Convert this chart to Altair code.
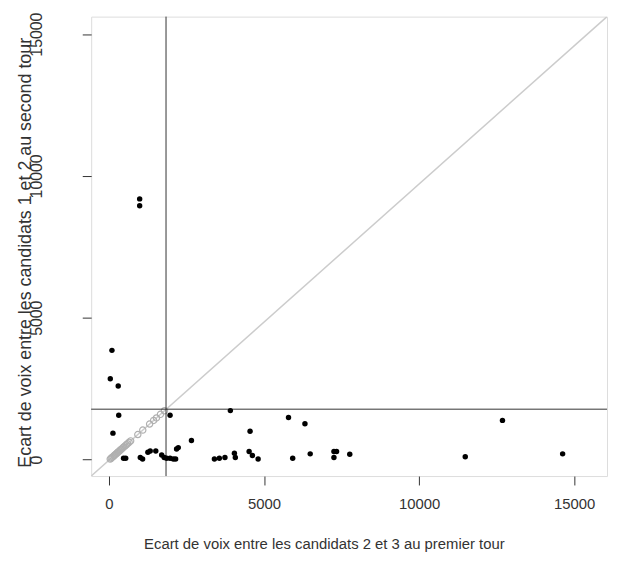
import altair as alt
import pandas as pd

# Black points: (x = gap candidates 2-3 first round, y = gap candidates 1-2 second round)
black_x = [990, 990, 96, 43, 298, 315, 128, 1970, 3915, 5790, 6320, 4550, 2660, 12690,
           470, 540, 1010, 1085, 1255, 1330, 1510, 1700, 1780, 1860, 1970, 2075, 2150,
           2180, 2235, 3400, 3560, 3740, 4045, 4075, 4520, 4625, 4810, 5925, 6490,
           7255, 7340, 7255, 7765, 11490, 14630]
black_y = [9190, 8950, 3850, 2850, 2590, 1560, 930, 1560, 1725, 1480, 1260, 1000, 670, 1380,
           45, 45, 70, 20, 255, 300, 300, 160, 70, 45, 45, 20, 20,
           370, 420, 20, 45, 70, 220, 70, 280, 140, 20, 45, 200,
           280, 280, 70, 185, 100, 200]

# Grey open circles along the diagonal
grey_x = [40, 70, 100, 130, 160, 190, 220, 250, 280, 310, 340, 370, 400, 440, 480, 520,
          560, 600, 650, 700, 930, 1090, 1310, 1440, 1530, 1660, 1790]
grey_y = [15, 44, 73, 102, 131, 161, 190, 219, 248, 277, 307, 336, 365, 404, 443, 482,
          521, 560, 609, 658, 882, 1038, 1252, 1379, 1467, 1593, 1720]

# Reference lines
vline_x = [1840]
hline_y = [1775]
diag_x = [-574, 16062]
diag_y = [-583, 15617]

x_domain = [-574, 16062]
y_domain = [-583, 15617]
ticks = [0, 5000, 10000, 15000]

FONT = "Liberation Sans"
TXT = "#333333"

black_df = pd.DataFrame({"x": black_x, "y": black_y})
grey_df = pd.DataFrame({"x": grey_x, "y": grey_y})
diag_df = pd.DataFrame({"x": diag_x, "y": diag_y})
v_df = pd.DataFrame({"x": vline_x})
h_df = pd.DataFrame({"y": hline_y})

xscale = alt.Scale(domain=x_domain, nice=False, zero=False)
yscale = alt.Scale(domain=y_domain, nice=False, zero=False)

xaxis = alt.Axis(
    title="Ecart de voix entre les candidats 2 et 3 au premier tour",
    values=ticks, format="d", grid=False, domain=False,
    tickSize=9, tickColor=TXT, labelPadding=12, labelFontSize=15, labelColor=TXT,
    labelFont=FONT, labelBaseline="top",
    titleFont=FONT, titleFontSize=15, titleFontWeight="normal", titleColor=TXT,
    titleX=235, titleY=73, titleAlign="center", titleBaseline="alphabetic",
)
yaxis = alt.Axis(
    title="Ecart de voix entre les candidats 1 et 2 au second tour",
    values=ticks, format="d", grid=False, domain=False,
    tickSize=9, tickColor=TXT, labelPadding=38, labelFontSize=16, labelColor=TXT,
    labelFont=FONT, labelAngle=270,
    titleFont=FONT, titleFontSize=18, titleFontWeight="normal", titleColor=TXT,
    titleAngle=270, titleX=-66, titleY=238, titleAlign="center", titleBaseline="middle",
)

diag = alt.Chart(diag_df).mark_line(color="#cccccc", strokeWidth=1.5, clip=True).encode(
    x=alt.X("x:Q", scale=xscale, axis=xaxis),
    y=alt.Y("y:Q", scale=yscale, axis=yaxis),
)
grey = alt.Chart(grey_df).mark_point(filled=False, color="#b0b0b0", size=40, strokeWidth=1.2, opacity=1).encode(
    x=alt.X("x:Q", scale=xscale),
    y=alt.Y("y:Q", scale=yscale),
)
vrule = alt.Chart(v_df).mark_rule(color="#333333", strokeWidth=1).encode(x=alt.X("x:Q", scale=xscale))
hrule = alt.Chart(h_df).mark_rule(color="#333333", strokeWidth=1).encode(y=alt.Y("y:Q", scale=yscale))
black = alt.Chart(black_df).mark_circle(color="#000000", size=30, opacity=1).encode(
    x=alt.X("x:Q", scale=xscale),
    y=alt.Y("y:Q", scale=yscale),
)

chart = alt.layer(diag, grey, vrule, hrule, black).properties(
    width=521, height=464,
    autosize=alt.AutoSizeParams(type="none"),
    padding={"left": 84, "top": 6, "right": 3, "bottom": 76},
).configure_view(stroke="#444444", strokeWidth=1.2).configure(background="white")

chart.save("out.html", embed_options={"renderer": "svg", "actions": False})
